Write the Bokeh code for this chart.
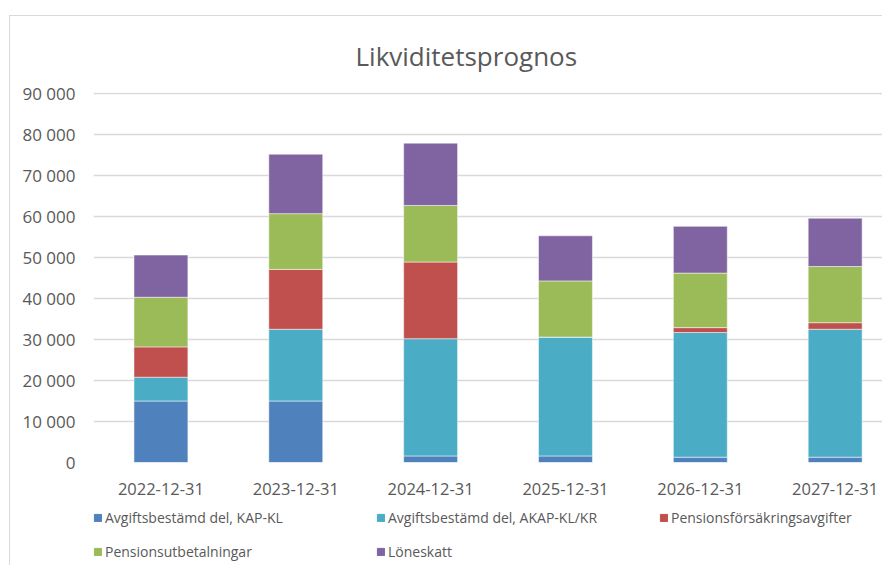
from bokeh.plotting import figure
from bokeh.models import ColumnDataSource, Range1d, FixedTicker, Legend
from bokeh.layouts import column
from bokeh.embed import file_html
from bokeh.resources import INLINE

categories = ["2022-12-31", "2023-12-31", "2024-12-31", "2025-12-31", "2026-12-31", "2027-12-31"]
series_names = ["Avgiftsbestämd del, KAP-KL", "Avgiftsbestämd del, AKAP-KL/KR",
                "Pensionsförsäkringsavgifter", "Pensionsutbetalningar", "Löneskatt"]
kap_kl = [15000, 15000, 1600, 1600, 1300, 1300]
akap_kl_kr = [5800, 17500, 28600, 29000, 30400, 31200]
pensionsforsakring = [7400, 14600, 18700, 0, 1200, 1600]
pensionsutbetalningar = [12100, 13600, 13800, 13700, 13300, 13700]
loneskatt = [10300, 14500, 15200, 11000, 11400, 11800]
colors = ["#4F81BD", "#4BACC6", "#C0504D", "#9BBB59", "#8064A2"]
y_ticks = [0, 10000, 20000, 30000, 40000, 50000, 60000, 70000, 80000, 90000]
y_tick_labels = ["0", "10 000", "20 000", "30 000", "40 000", "50 000", "60 000", "70 000", "80 000", "90 000"]

keys = ["s0", "s1", "s2", "s3", "s4"]
data = {"x": list(range(len(categories)))}
for k, vals in zip(keys, [kap_kl, akap_kl_kr, pensionsforsakring, pensionsutbetalningar, loneskatt]):
    data[k] = vals
source = ColumnDataSource(data)

W, H1, H2 = 872, 489, 60
p = figure(width=W, height=H1, output_backend="svg", toolbar_location=None,
           x_range=Range1d(-0.5, 5.351), y_range=Range1d(0, 90250),
           title="Likviditetsprognos",
           min_border_left=83, min_border_right=0, min_border_top=76, min_border_bottom=43)

renderers = p.vbar_stack(keys, x="x", width=0.4, source=source, color=colors,
                         line_color="white", line_alpha=0.5, line_width=1)

p.title.align = "left"
p.title.offset = 262
p.title.text_font = "Open Sans"
p.title.text_font_size = "26px"
p.title.text_font_style = "normal"
p.title.text_color = "#595959"
p.title.standoff = 37

p.outline_line_color = None
p.xgrid.grid_line_color = None
p.ygrid.grid_line_color = "#D9D9D9"
p.ygrid.grid_line_width = 1.3
p.ygrid.ticker = FixedTicker(ticks=y_ticks)

p.yaxis.ticker = FixedTicker(ticks=y_ticks)
p.yaxis.major_label_overrides = {t: l for t, l in zip(y_ticks, y_tick_labels)}
p.xaxis.ticker = FixedTicker(ticks=list(range(len(categories))))
p.xaxis.major_label_overrides = {i: c for i, c in enumerate(categories)}
for ax in (p.xaxis, p.yaxis):
    ax.axis_line_color = None
    ax.major_tick_line_color = None
    ax.minor_tick_line_color = None
    ax.major_tick_out = 0
    ax.major_tick_in = 0
    ax.minor_tick_out = 0
    ax.major_label_text_font = "Open Sans"
    ax.major_label_text_font_size = "16.5px"
    ax.major_label_text_color = "#595959"
p.yaxis.major_label_text_font_size = "17px"
p.yaxis.major_label_standoff = 18
p.xaxis.major_label_standoff = 20

# legend strip: same stacked series as hidden renderers, legend shown only
p2 = figure(width=W, height=H2, output_backend="svg", toolbar_location=None,
            x_range=Range1d(-0.5, 5.351), y_range=Range1d(-2, -1),
            x_axis_type=None, y_axis_type=None,
            min_border_left=0, min_border_right=0, min_border_top=0, min_border_bottom=0)
p2.outline_line_color = None
p2.xgrid.visible = False
p2.ygrid.visible = False
leg_renderers = p2.vbar_stack(keys, x="x", width=0.4, source=source, color=colors)
for r in leg_renderers:
    r.visible = False

legend = Legend(items=[(n, [r]) for n, r in zip(series_names, leg_renderers)],
                orientation="horizontal", ncols=3,
                location=(0, 4),
                glyph_width=9, glyph_height=9, label_standoff=3,
                label_width=257, label_height=20, spacing=14,
                padding=0, margin=0,
                inactive_fill_alpha=0,
                label_text_font="Open Sans", label_text_font_size="14px",
                label_text_color="#595959",
                border_line_color=None, background_fill_alpha=0)
p2.add_layout(legend, "center")

layout = column(p, p2, spacing=0)
layout.margin = (15, 0, 0, 9)
layout.styles = {"border-left": "1px solid #d9d9d9", "border-top": "1px solid #d9d9d9"}

open("out.html", "w").write(file_html(layout, INLINE))
